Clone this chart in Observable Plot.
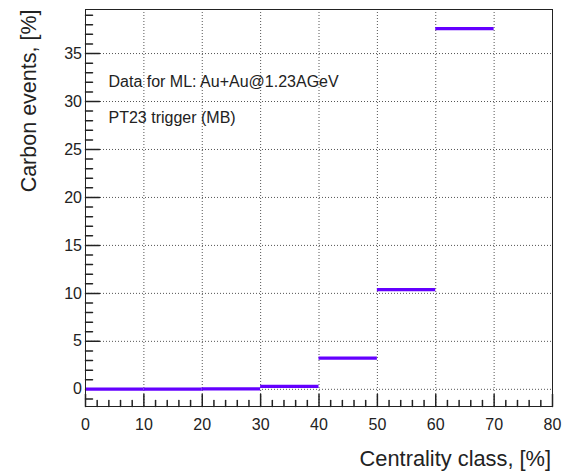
<!DOCTYPE html>
<html>
<head>
<meta charset="utf-8">
<script src="https://cdn.jsdelivr.net/npm/d3@7"></script>
<script src="https://cdn.jsdelivr.net/npm/@observablehq/plot@0.6"></script>
<style>
  body { margin: 0; background: #fff; }
  #chart svg { display: block; }
</style>
</head>
<body>
<div id="chart"></div>
<script>
// Centrality bins (lower / upper edge, %) and share of carbon events per bin (%)
const binLow = [0, 10, 20, 30, 40, 50, 60];
const binHigh = [10, 20, 30, 40, 50, 60, 70];
const carbonPct = [0.02, 0.03, 0.04, 0.3, 3.25, 10.4, 37.6];

// Axis ticks
const xMajorTicks = [0, 10, 20, 30, 40, 50, 60, 70, 80];
const xGridLines = [10, 20, 30, 40, 50, 60, 70];
const yMajorTicks = [0, 5, 10, 15, 20, 25, 30, 35];

// Annotation lines
const infoLines = ["Data for ML: Au+Au@1.23AGeV", "PT23 trigger (MB)"];

const xTitle = "Centrality class, [%]";
const yTitle = "Carbon events, [%]";

const bins = binLow.map((lo, i) => ({lo, hi: binHigh[i], value: carbonPct[i]}));

const xMinorTicks = d3.range(0, 80.001, 2).filter(v => v % 10 !== 0);
const yMinorTicks = d3.range(-1, 39.001, 1).filter(v => v % 5 !== 0);

// straight tick segment drawn from the frame edge inwards
const tickShape = {
  draw(context, l) {
    context.moveTo(0, 0);
    context.lineTo(0, -l);
  }
};

const ink = "#222";
const font = "'Liberation Sans', Arial, Helvetica, sans-serif";

// vertical offsets of the annotation lines from the top of the frame
const infoOffsets = [72.7, 108.5];

const chart = Plot.plot({
  width: 562,
  height: 471,
  marginLeft: 85,
  marginRight: 10,
  marginTop: 9,
  marginBottom: 65,
  style: {fontFamily: font, background: "#fff", color: ink},
  x: {domain: [0, 80]},
  y: {domain: [-1.79, 39.59]},
  marks: [
    // dotted grid
    Plot.gridX(xGridLines, {stroke: "#555", strokeOpacity: 1, strokeDasharray: "1,2"}),
    Plot.gridY(yMajorTicks, {stroke: "#555", strokeOpacity: 1, strokeDasharray: "1,2"}),

    // inward tick marks
    Plot.vector(xMinorTicks, {x: d => d, frameAnchor: "bottom", length: 6, rotate: 0, anchor: "start", shape: tickShape, stroke: ink}),
    Plot.vector(xMajorTicks, {x: d => d, frameAnchor: "bottom", length: 12, rotate: 0, anchor: "start", shape: tickShape, stroke: ink}),
    Plot.vector(yMinorTicks, {y: d => d, frameAnchor: "left", length: 7, rotate: 90, anchor: "start", shape: tickShape, stroke: ink}),
    Plot.vector(yMajorTicks, {y: d => d, frameAnchor: "left", length: 14, rotate: 90, anchor: "start", shape: tickShape, stroke: ink}),

    // tick labels
    Plot.axisX(xMajorTicks, {tickSize: 0, tickPadding: 12.5, fontSize: 16, label: null, fill: ink}),
    Plot.axisY(yMajorTicks, {tickSize: 0, tickPadding: 3.5, fontSize: 16, label: null, fill: ink}),

    // per-bin values
    Plot.ruleY(bins, {y: "value", x1: "lo", x2: "hi", stroke: "#6400ff", strokeWidth: 3.3}),

    Plot.frame({stroke: ink, strokeWidth: 1}),

    // annotations
    ...infoLines.map((line, i) => Plot.text([line], {
      text: d => d, frameAnchor: "top-left", dx: 23, dy: infoOffsets[i],
      textAnchor: "start", lineAnchor: "middle", fontSize: 16, fill: ink
    })),

    // axis titles
    Plot.text([xTitle], {text: d => d, frameAnchor: "bottom-right", dx: -1.5, dy: 53,
      textAnchor: "end", lineAnchor: "middle", fontSize: 21.8, fill: ink}),
    Plot.text([yTitle], {text: d => d, frameAnchor: "top-left", dx: -56, dy: 0, rotate: -90,
      textAnchor: "end", lineAnchor: "middle", fontSize: 21.5, fill: ink})
  ]
});

document.getElementById("chart").appendChild(chart);
</script>
</body>
</html>
